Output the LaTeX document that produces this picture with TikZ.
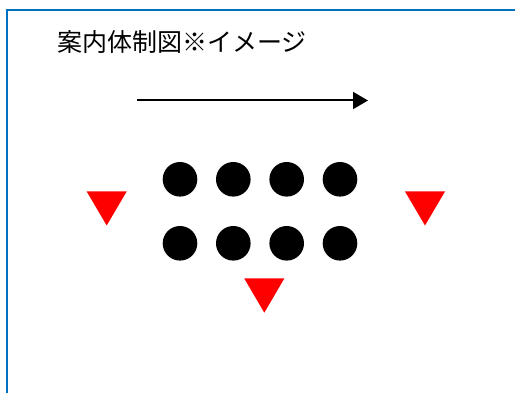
\documentclass[tikz,border=0pt]{standalone}
\usepackage{fontspec}
\newfontfamily\cjk{Noto Sans CJK JP}
\usetikzlibrary{arrows.meta}
\definecolor{frameblue}{RGB}{0,112,192}
\definecolor{tri}{RGB}{255,0,0}
\tikzset{
  x=1pt,y=-1pt,
  dot/.style={circle,fill=black,draw=none,minimum size=34.6pt,inner sep=0pt},
  marker/.style={fill=tri,draw=none},
  framel/.style={draw=frameblue,line width=2pt},
  flow/.style={draw=black,line width=2pt,-{Triangle[length=15pt,width=17pt]}}
}
\begin{document}
\begin{tikzpicture}
\useasboundingbox (0,0) rectangle (515,393);
\draw[framel] (515,10) -- (7,10) -- (7,393);
\node[anchor=west,inner sep=0pt,font=\cjk\fontsize{25}{30}\selectfont] (title) at (57,42) {案内体制図※イメージ};
\coordinate (a1) at (137,100.5);
\coordinate (a2) at (368,100.5);
\draw[flow] (a1) -- (a2);
\foreach \i/\x in {1/180,2/233.3,3/286.7,4/340}{
  \node[dot] (t\i) at (\x,179.3) {};
  \node[dot] (b\i) at (\x,243.3) {};
}
\fill[marker] (86.7,191.5) -- (126.7,191.5) -- (106.7,225.5) -- cycle;
\fill[marker] (405,191.5) -- (445,191.5) -- (425,225.5) -- cycle;
\fill[marker] (244.3,278.5) -- (284.3,278.5) -- (264.3,312.7) -- cycle;
\end{tikzpicture}
\end{document}
